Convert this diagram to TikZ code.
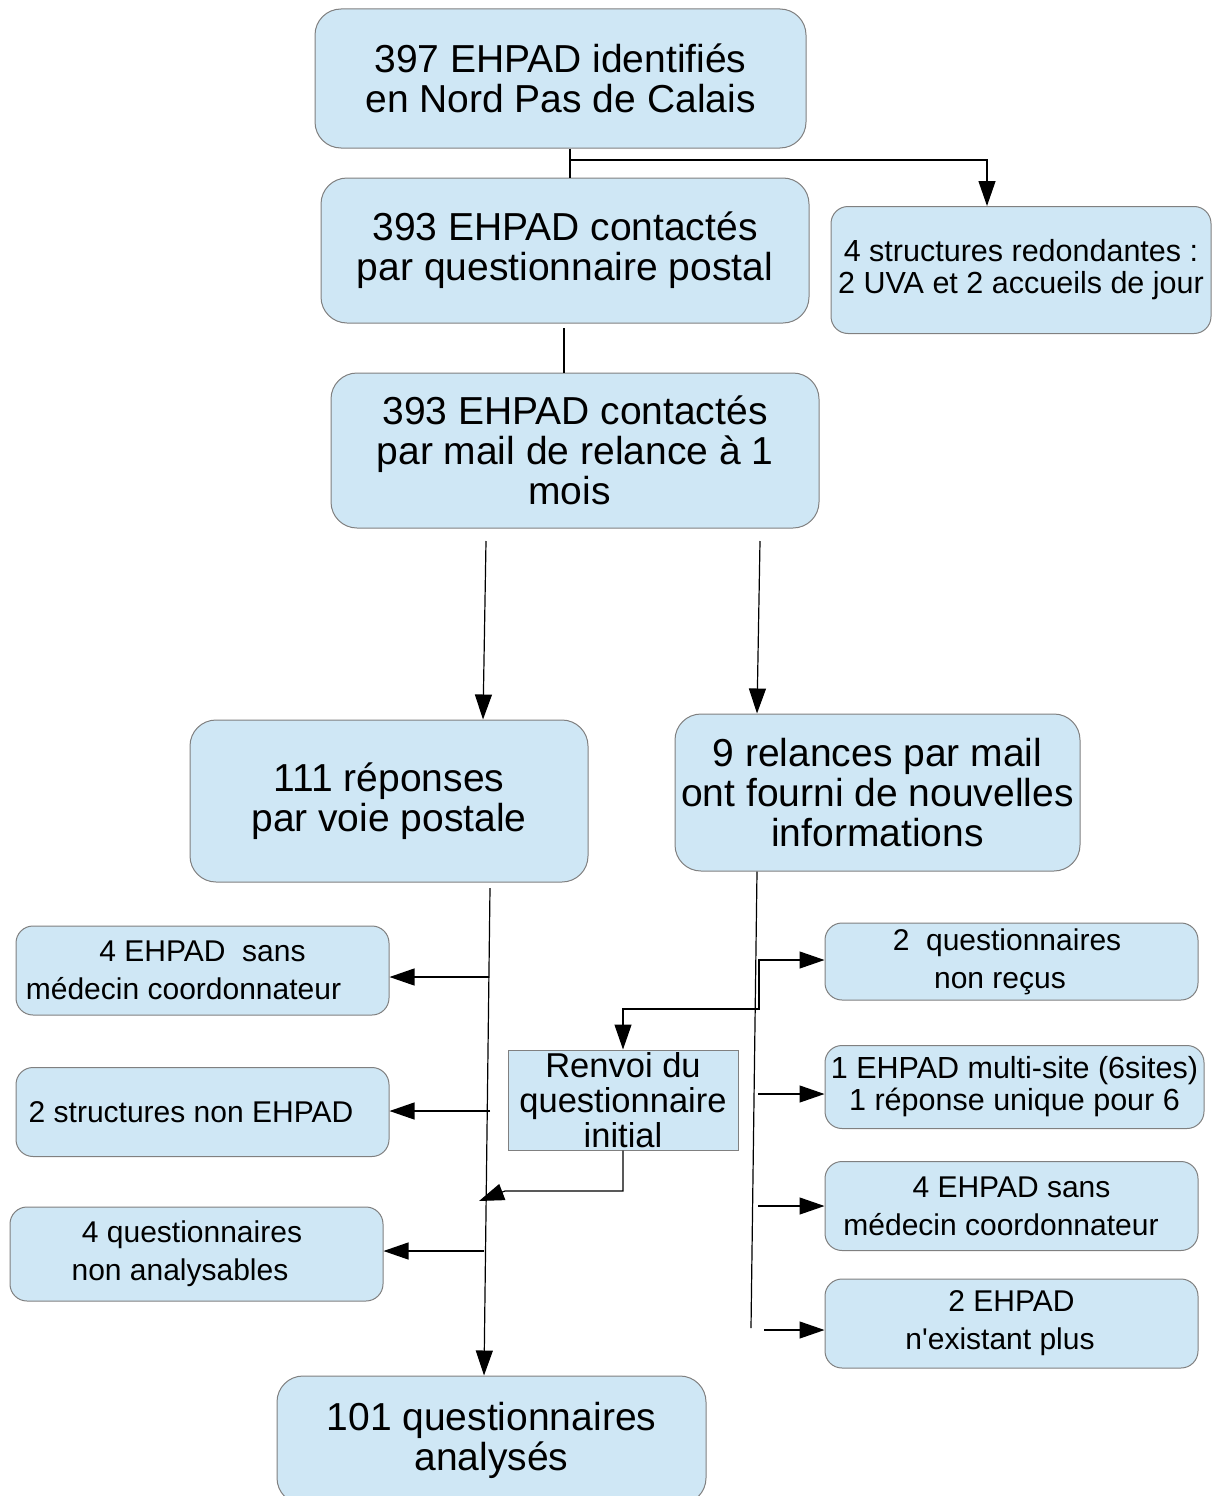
\documentclass[tikz,border=0pt]{standalone}
\usepackage{fontspec}
\setmainfont{Liberation Sans}
\usetikzlibrary{arrows.meta}
\definecolor{boxfill}{RGB}{207,231,245}
\definecolor{boxline}{RGB}{128,128,128}
\tikzset{
  basebox/.style={draw=boxline, fill=boxfill, line width=1pt, inner sep=0pt, align=center},
  rbox/.style={basebox, rounded corners=26pt},
  sbox/.style={basebox, rounded corners=17pt},
  sqbox/.style={basebox},
  bigtxt/.style={font=\fontsize{39}{40}\selectfont},
  smalltxt/.style={font=\fontsize{30}{38}\selectfont},
  tighttxt/.style={font=\fontsize{30.5}{32}\selectfont},
  midtxt/.style={font=\fontsize{34.5}{35}\selectfont},
  conn/.style={line width=1.2pt, black},
  arr/.style={conn, -{Triangle[length=25pt,width=17pt]}}
}
\newcommand{\shiftline}[2]{\mbox{#1\hspace{#2pt}}}
\begin{document}
\begin{tikzpicture}[x=1pt,y=-1pt]
\useasboundingbox (0,0) rectangle (1217,1496);
% boxes
\node[rbox,bigtxt,minimum width=491pt,minimum height=139pt] (n1) at (560.5,78.5) {397 EHPAD identifiés\\en Nord Pas de Calais};
\node[rbox,bigtxt,minimum width=488pt,minimum height=145pt] (n2) at (565,250.5) {393 EHPAD contactés\\par questionnaire postal};
\node[sbox,tighttxt,minimum width=380pt,minimum height=127pt] (n3) at (1021,270) {4 structures redondantes :\\2 UVA et 2 accueils de jour};
\node[rbox,bigtxt,minimum width=488pt,minimum height=155pt] (n4) at (575,450.5) {393 EHPAD contactés\\par mail de relance à 1\\\shiftline{mois}{11}};
\node[rbox,bigtxt,minimum width=398pt,minimum height=162pt] (n5) at (389,801) {111 réponses\\par voie postale};
\node[rbox,bigtxt,minimum width=405pt,minimum height=157pt] (n6) at (877.5,792.5) {9 relances par mail\\ont fourni de nouvelles\\informations};
\node[sbox,smalltxt,minimum width=373pt,minimum height=89pt] (n7) at (202.5,970.5) {4 EHPAD\ \ sans\\\shiftline{médecin coordonnateur}{38}};
\node[sbox,smalltxt,minimum width=373pt,minimum height=89pt] (n8) at (202.5,1112) {\shiftline{2 structures non EHPAD}{23}};
\node[sbox,smalltxt,minimum width=373pt,minimum height=94pt] (n9) at (196.5,1254) {\shiftline{4 questionnaires}{9}\\\shiftline{non analysables}{33}};
\node[sqbox,midtxt,minimum width=230pt,minimum height=100pt] (n10) at (623,1100) {Renvoi du\\questionnaire\\initial};
\node[sbox,smalltxt,minimum width=373pt,minimum height=77pt] (n11) at (1011.5,961.5) {\shiftline{2\ \ questionnaires}{9}\\\shiftline{non reçus}{23}};
\node[sbox,tighttxt,minimum width=379pt,minimum height=83pt] (n12) at (1014.5,1087) {1 EHPAD multi-site (6sites)\\1 réponse unique pour 6};
\node[sbox,smalltxt,minimum width=373pt,minimum height=89pt] (n13) at (1011.5,1206) {4 EHPAD sans\\\shiftline{médecin coordonnateur}{21}};
\node[sbox,smalltxt,minimum width=373pt,minimum height=89pt] (n14) at (1011.5,1323.5) {2 EHPAD\\\shiftline{n\textquotesingle existant plus}{23}};
\node[rbox,bigtxt,minimum width=429pt,minimum height=128pt] (n15) at (491.5,1440) {101 questionnaires\\analysés};
% junction coordinates
\coordinate (j1) at (570,160);
\coordinate (c3) at (987,160);
\coordinate (v2) at (564,328);
\coordinate (a1) at (486,541);
\coordinate (a2) at (760,541);
\coordinate (t1) at (490,888);
\coordinate (t2) at (757,871);
\coordinate (t2end) at (751,1328);
% connectors top
\draw[conn] (j1 |- n1.south) -- (j1 |- n2.north);
\draw[arr] (j1) -- (c3) -- (c3 |- n3.north);
\draw[conn] (v2) -- (v2 |- n4.north);
\draw[arr] (a1) -- (483,0 |- n5.north);
\draw[arr] (a2) -- (757,0 |- n6.north);
% left trunk
\draw[arr] (t1) -- (484,0 |- n15.north);
\draw[arr] (489,977) -- (n7.east |- 0,977);
\draw[arr] (490,1111) -- (n8.east |- 0,1111);
\draw[arr] (484,1251) -- (n9.east |- 0,1251);
% right trunk
\draw[conn] (t2 |- n6.south) -- (t2end);
\draw[arr] (758,960) -- (n11.west |- 0,960);
\draw[arr] (759,960) -- (759,1009) -- (623,1009) -- (n10.north);
\draw[arr] (758,1094) -- (n12.west |- 0,1094);
\draw[arr] (758,1206) -- (n13.west |- 0,1206);
\draw[arr] (764,1330) -- (n14.west |- 0,1330);
% renvoi back to left trunk
\draw[arr] (n10.south) -- (623,1191) -- (505,1191) -- (479,1201);
\end{tikzpicture}
\end{document}
